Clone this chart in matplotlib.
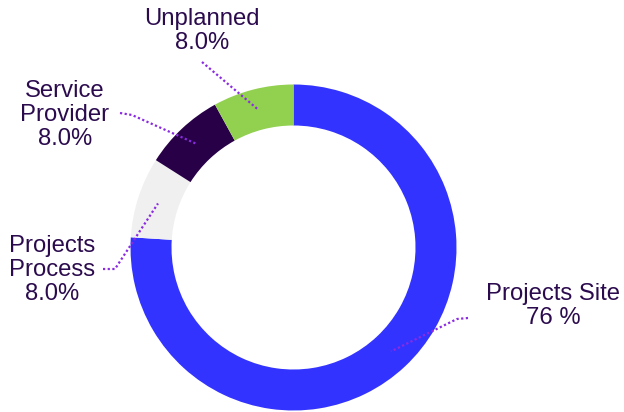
import numpy as np
import matplotlib
matplotlib.use('Agg')
import matplotlib.pyplot as plt

# Datos del gráfico
labels = ['Projects Site', 'Projects Process', 'Service Provider', 'Unplanned']
values = [76, 8, 8, 8]
value_text = ['76 %', '8.0%', '8.0%', '8.0%']
label_text = ['Projects Site', 'Projects\nProcess', 'Service\nProvider', 'Unplanned']
colors = ['#3333FF', '#F0F0F0', '#280048', '#92D050']

text_color = '#2B0B4E'
line_color = '#8A2BE2'

fig = plt.figure(figsize=(6.24, 4.12), dpi=100)
ax = fig.add_axes([0, 0, 1, 1])

cx, cy = 293.5, 412 - 247.5
r_out, width = 163, 41

wedges, _ = ax.pie(values, colors=colors, startangle=90, counterclock=False,
                   radius=r_out, center=(cx, cy), frame=True,
                   wedgeprops=dict(width=width, edgecolor='none'))
ax.set_xlim(0, 624)
ax.set_ylim(0, 412)
ax.axis('off')

# Posiciones de las etiquetas (centro del texto) y puntos de inicio de la guía
label_pos = [(553, 412 - 306), (52, 412 - 270), (65, 412 - 115), (202, 412 - 31)]
line_start = [[(468, 412 - 318), (457, 412 - 319)],
              [(103, 412 - 269), (115, 412 - 269)],
              [(120, 412 - 113), (132, 412 - 115)],
              [(202, 412 - 62)]]

r_mid = r_out - width / 2
for w, txt, val, pos, start in zip(wedges, label_text, value_text, label_pos, line_start):
    ang = np.deg2rad((w.theta1 + w.theta2) / 2)
    end = (cx + r_mid * np.cos(ang), cy + r_mid * np.sin(ang))
    pts = start + [end]
    xs = [p[0] for p in pts]
    ys = [p[1] for p in pts]
    ax.plot(xs, ys, color=line_color, lw=1.6, linestyle=(0, (1, 1.1)),
            solid_capstyle='butt', zorder=5)
    ax.text(pos[0], pos[1], txt + '\n' + val, ha='center', va='center',
            fontsize=17.2, color=text_color, family='Liberation Sans',
            linespacing=1.13)

fig.savefig('out.png', dpi=100)
